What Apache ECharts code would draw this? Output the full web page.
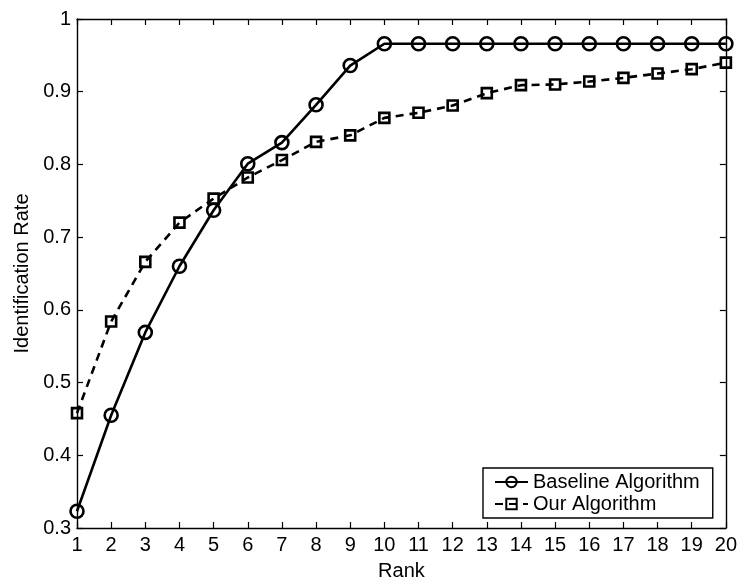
<!DOCTYPE html>
<html>
<head>
<meta charset="utf-8">
<script src="https://cdn.jsdelivr.net/npm/echarts@6/dist/echarts.min.js"></script>
<style>
  html, body { margin: 0; padding: 0; background: #fff; }
  #chart { width: 740px; height: 586px; }
</style>
</head>
<body>
<div id="chart"></div>
<script>
// Rank axis and identification rates per algorithm
const ranks = [1, 2, 3, 4, 5, 6, 7, 8, 9, 10, 11, 12, 13, 14, 15, 16, 17, 18, 19, 20];
const baselineRates = [0.323, 0.455, 0.569, 0.660, 0.737, 0.801, 0.830, 0.882, 0.936, 0.966,
  0.966, 0.966, 0.966, 0.966, 0.966, 0.966, 0.966, 0.966, 0.966, 0.966];
const ourRates = [0.458, 0.584, 0.666, 0.720, 0.753, 0.782, 0.806, 0.831, 0.840, 0.864,
  0.871, 0.881, 0.898, 0.909, 0.910, 0.914, 0.919, 0.925, 0.931, 0.940];
const seriesNames = ['Baseline Algorithm', 'Our Algorithm'];
const xTitle = 'Rank';
const yTitle = 'Identification Rate';

const FONT = '"Liberation Sans", Arial, Helvetica, sans-serif';
const chart = echarts.init(document.getElementById('chart'), null, { renderer: 'canvas' });

const axisLine = { show: true, lineStyle: { color: '#000', width: 1.4 } };
const tick = { show: true, inside: true, length: 6, lineStyle: { color: '#000', width: 1.2 } };
const labelStyle = { color: '#000', fontFamily: FONT, fontSize: 20 };

function pairs(xs, ys) { return xs.map((x, i) => [x, ys[i]]); }

chart.setOption({
  animation: false,
  backgroundColor: '#fff',
  grid: { left: 77, right: 11, top: 19, bottom: 54, containLabel: false },
  xAxis: [
    {
      type: 'value', min: 1, max: 20, interval: 1, position: 'bottom',
      name: xTitle, nameLocation: 'middle', nameGap: 33,
      nameTextStyle: { color: '#000', fontFamily: FONT, fontSize: 20 },
      axisLine, axisTick: tick,
      axisLabel: Object.assign({ margin: 7 }, labelStyle),
      splitLine: { show: false }
    },
    {
      type: 'value', min: 1, max: 20, interval: 1, position: 'top',
      axisLine, axisTick: tick, axisLabel: { show: false }, splitLine: { show: false }
    }
  ],
  yAxis: [
    {
      type: 'value', min: 0.3, max: 1, interval: 0.1, position: 'left',
      name: yTitle, nameLocation: 'middle', nameGap: 43, nameRotate: 90,
      nameTextStyle: { color: '#000', fontFamily: FONT, fontSize: 20 },
      axisLine, axisTick: tick,
      axisLabel: Object.assign({ margin: 6, formatter: v => String(+v.toFixed(1)) }, labelStyle),
      splitLine: { show: false }
    },
    {
      type: 'value', min: 0.3, max: 1, interval: 0.1, position: 'right',
      axisLine, axisTick: tick, axisLabel: { show: false }, splitLine: { show: false }
    }
  ],
  legend: {
    orient: 'vertical',
    left: 483, top: 468,
    padding: [4, 13, 4, 11],
    itemGap: 2,
    itemWidth: 33, itemHeight: 13,
    borderColor: '#000', borderWidth: 1.4,
    backgroundColor: '#fff',
    textStyle: { color: '#000', fontFamily: FONT, fontSize: 20 },
    data: seriesNames
  },
  series: [
    {
      name: seriesNames[0], type: 'line',
      data: pairs(ranks, baselineRates),
      symbol: 'circle', symbolSize: 13,
      lineStyle: { color: '#000', width: 2.6, type: 'solid' },
      itemStyle: { color: 'rgba(0,0,0,0)', borderColor: '#000', borderWidth: 2.6 },
      emphasis: { disabled: true }, z: 3
    },
    {
      name: seriesNames[1], type: 'line',
      data: pairs(ranks, ourRates),
      symbol: 'rect', symbolSize: 10,
      lineStyle: { color: '#000', width: 2.6, type: [8, 6] },
      itemStyle: { color: 'rgba(0,0,0,0)', borderColor: '#000', borderWidth: 2.6 },
      emphasis: { disabled: true }, z: 3
    }
  ]
});
</script>
</body>
</html>
